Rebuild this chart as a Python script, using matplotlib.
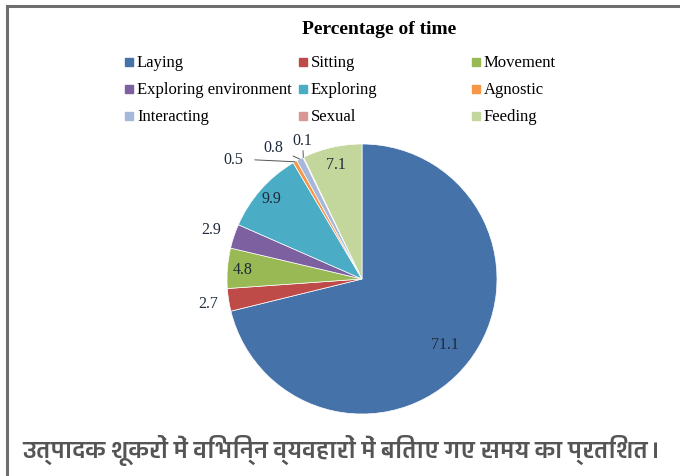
import numpy as np
import matplotlib.pyplot as plt
from matplotlib import font_manager
from matplotlib.ft2font import FT2Font
from matplotlib.lines import Line2D
from matplotlib.patches import Rectangle

# Share of time spent in each behaviour (%)
behaviours = ['Laying', 'Sitting', 'Movement', 'Exploring environment', 'Exploring',
              'Agnostic', 'Interacting', 'Sexual', 'Feeding']
percent = [71.1, 2.7, 4.8, 2.9, 9.9, 0.5, 0.8, 0.1, 7.1]
colors = ['#4672AA', '#BE4B48', '#98B954', '#7D60A0', '#4AACC5',
          '#F79646', '#A5B8DB', '#D99694', '#C3D69B']

title = 'Percentage of time'
caption = 'उत्पादक शूकरों में विभिन्न व्यवहारों में बिताए गए समय का प्रतिशत।'


def font_with(ch):
    # installed font family with a glyph for ch, bold faces first
    found = []
    for f in font_manager.fontManager.ttflist:
        try:
            if ord(ch) in FT2Font(f.fname).get_charmap():
                found.append(f)
        except Exception:
            pass
    if not found:
        return 'DejaVu Sans'
    found.sort(key=lambda f: -(f.weight if isinstance(f.weight, int) else 400))
    return found[0].name


serif = 'Liberation Serif'
W, H = 680, 477
fig = plt.figure(figsize=(W / 100, H / 100), dpi=100)

# pie axes: centre at (362, 280) px, radius 135 px
R, lim = 135, 1.3
cx, cy = 362, 280
side = 2 * lim * R
ax = fig.add_axes([(cx - side / 2) / W, (H - cy - side / 2) / H, side / W, side / H])
wedges, _ = ax.pie(percent, colors=colors, startangle=90, counterclock=False,
                   wedgeprops=dict(edgecolor='white', linewidth=0.5))
ax.set_xlim(-lim, lim)
ax.set_ylim(-lim, lim)
ax.set_aspect('equal')
ax.axis('off')

# value labels: radial distance per slice (None -> leader line label)
label_r = [0.78, 1.15, 0.89, 1.18, 0.9, None, None, None, 0.87]
leader_pos = {5: (-0.95, 0.89), 6: (-0.66, 0.98), 7: (-0.44, 1.03)}
for i, (w, v) in enumerate(zip(wedges, percent)):
    mid = np.deg2rad((w.theta1 + w.theta2) / 2)
    if label_r[i] is not None:
        r = label_r[i]
        ax.text(r * np.cos(mid), r * np.sin(mid), f'{v}', ha='center', va='center',
                fontsize=11.5, family=serif, color='#1E2A3A')
    else:
        ax.annotate(f'{v}', xy=(np.cos(mid), np.sin(mid)), xytext=leader_pos[i],
                    ha='center', va='center', fontsize=11.5, family=serif, color='#1E2A3A',
                    arrowprops=dict(arrowstyle='-', color='#555555', lw=0.7,
                                    shrinkA=6, shrinkB=0))

fig.text(379 / W, 1 - 29 / H, title, ha='center', va='center', fontsize=14,
         fontweight='bold', family=serif)

# legend laid out in three columns
col_x = [129, 303, 476]
row_y = [63, 90, 117]
for i, (name, c) in enumerate(zip(behaviours, colors)):
    x, y = col_x[i % 3], row_y[i // 3]
    fig.add_artist(Rectangle(((x - 4) / W, 1 - (y + 4) / H), 8 / W, 8 / H,
                             transform=fig.transFigure, color=c))
    fig.text((x + 8) / W, 1 - y / H, name, ha='left', va='center', fontsize=12,
             family=serif)

# frame lines on top and left
fig.add_artist(Line2D([7 / W, 1], [1 - 7 / H, 1 - 7 / H], transform=fig.transFigure,
                      color='#6E6E6E', lw=2.2))
fig.add_artist(Line2D([7 / W, 7 / W], [0, 1 - 7 / H], transform=fig.transFigure,
                      color='#6E6E6E', lw=2.2))

# caption, sized so it spans about 636 px
cap = fig.text(341 / W, 1 - 451 / H, caption, ha='center', va='center', fontsize=16,
               fontweight='bold', color='#555555', family=[font_with('क'), 'DejaVu Sans'])
renderer = fig.canvas.get_renderer()
width = cap.get_window_extent(renderer).width
cap.set_fontsize(16 * 636 / width)

fig.savefig('out.png', dpi=100)
